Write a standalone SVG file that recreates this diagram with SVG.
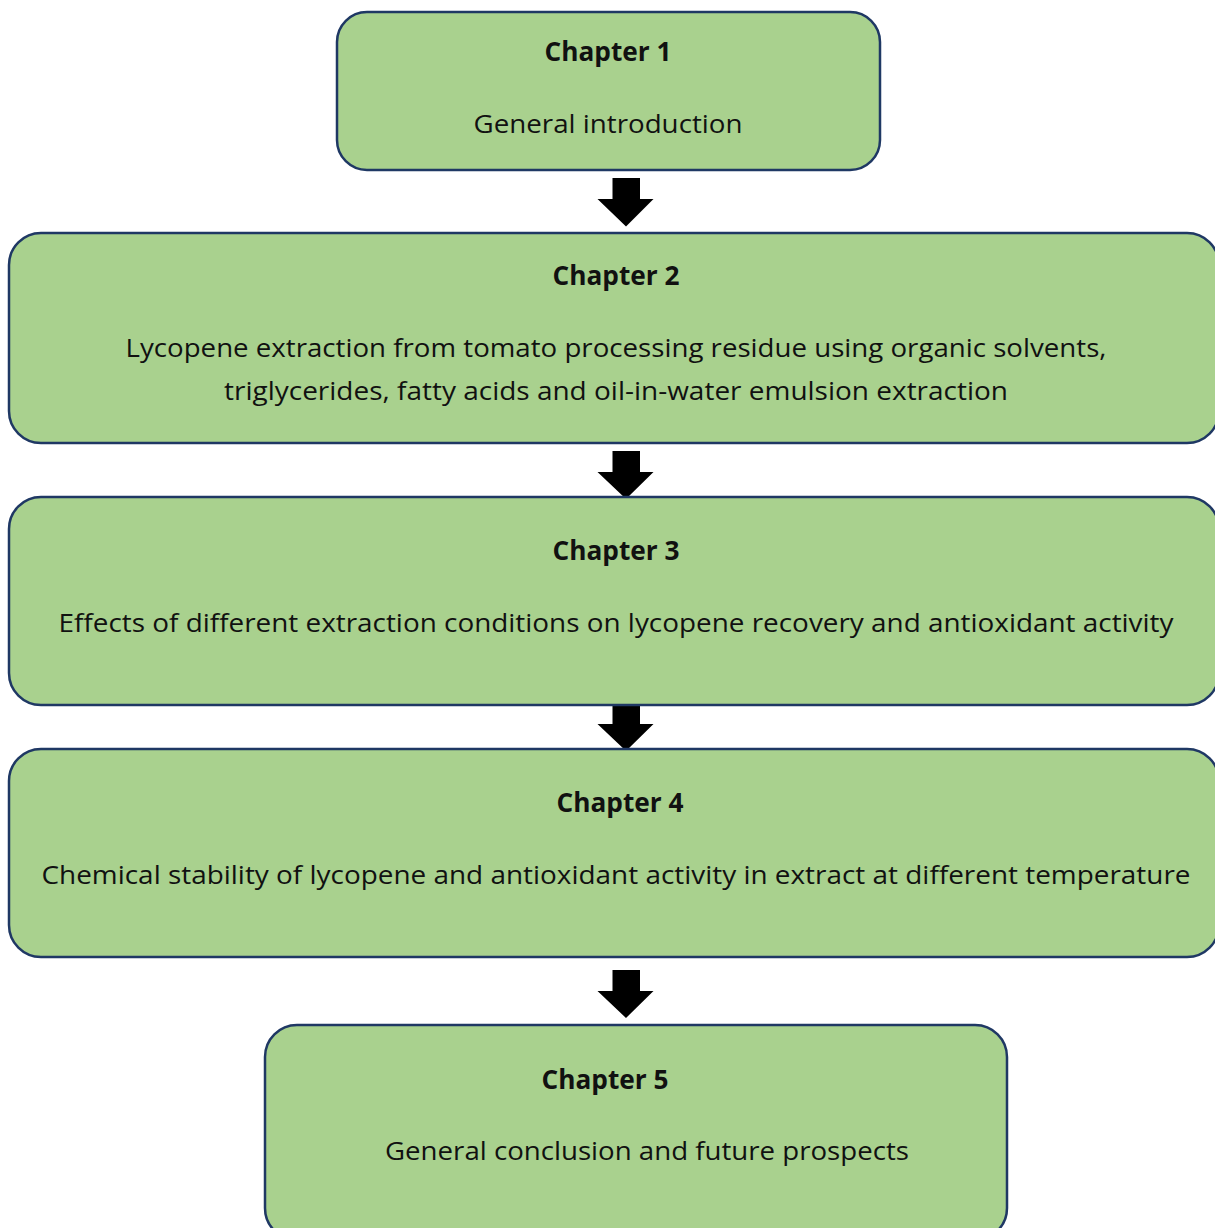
<svg xmlns="http://www.w3.org/2000/svg" width="1215" height="1228" viewBox="0 0 1215 1228">
<style>
.box{fill:#A9D18E;stroke:#1F3864;stroke-width:2.5}
.t{font-family:"Open Sans","Noto Sans",sans-serif;font-size:26px;fill:#111;text-anchor:middle}
.h{font-weight:bold}
.arr{fill:#000}
</style>
<rect width="1215" height="1228" fill="#fff"/>
<g id="connectors">
<path class="arr" d="M612.5,178 H640 V199 H653.5 L626,226.5 L597.5,199 H612.5 Z"/>
<path class="arr" d="M612.5,451 H640 V472 H653.5 L626,499 L597.5,472 H612.5 Z"/>
<path class="arr" d="M612.5,704 H640 V724 H653.5 L626,751 L597.5,724 H612.5 Z"/>
<path class="arr" d="M612.5,970 H640 V991 H653.5 L626,1018 L597.5,991 H612.5 Z"/>
</g>
<g id="node1">
<rect class="box" x="337" y="12" width="543" height="158" rx="30"/>
<text class="t h" x="608" y="61" textLength="127" lengthAdjust="spacingAndGlyphs">Chapter 1</text>
<text class="t" x="608" y="133" textLength="269" lengthAdjust="spacingAndGlyphs">General introduction</text>
</g>
<g id="node2">
<rect class="box" x="9" y="233" width="1210" height="210" rx="32"/>
<text class="t h" x="616" y="285" textLength="127" lengthAdjust="spacingAndGlyphs">Chapter 2</text>
<text class="t" x="616" y="357" textLength="981" lengthAdjust="spacingAndGlyphs">Lycopene extraction from tomato processing residue using organic solvents,</text>
<text class="t" x="616" y="400" textLength="784" lengthAdjust="spacingAndGlyphs">triglycerides, fatty acids and oil-in-water emulsion extraction</text>
</g>
<g id="node3">
<rect class="box" x="9" y="497" width="1210" height="208" rx="32"/>
<text class="t h" x="616" y="560" textLength="127" lengthAdjust="spacingAndGlyphs">Chapter 3</text>
<text class="t" x="616" y="632" textLength="1115" lengthAdjust="spacingAndGlyphs">Effects of different extraction conditions on lycopene recovery and antioxidant activity</text>
</g>
<g id="node4">
<rect class="box" x="9" y="749" width="1210" height="208" rx="32"/>
<text class="t h" x="620" y="812" textLength="127" lengthAdjust="spacingAndGlyphs">Chapter 4</text>
<text class="t" x="616" y="884" textLength="1149" lengthAdjust="spacingAndGlyphs">Chemical stability of lycopene and antioxidant activity in extract at different temperature</text>
</g>
<g id="node5">
<rect class="box" x="265" y="1025" width="742" height="215" rx="32"/>
<text class="t h" x="605" y="1089" textLength="127" lengthAdjust="spacingAndGlyphs">Chapter 5</text>
<text class="t" x="647" y="1160" textLength="524" lengthAdjust="spacingAndGlyphs">General conclusion and future prospects</text>
</g>
</svg>
